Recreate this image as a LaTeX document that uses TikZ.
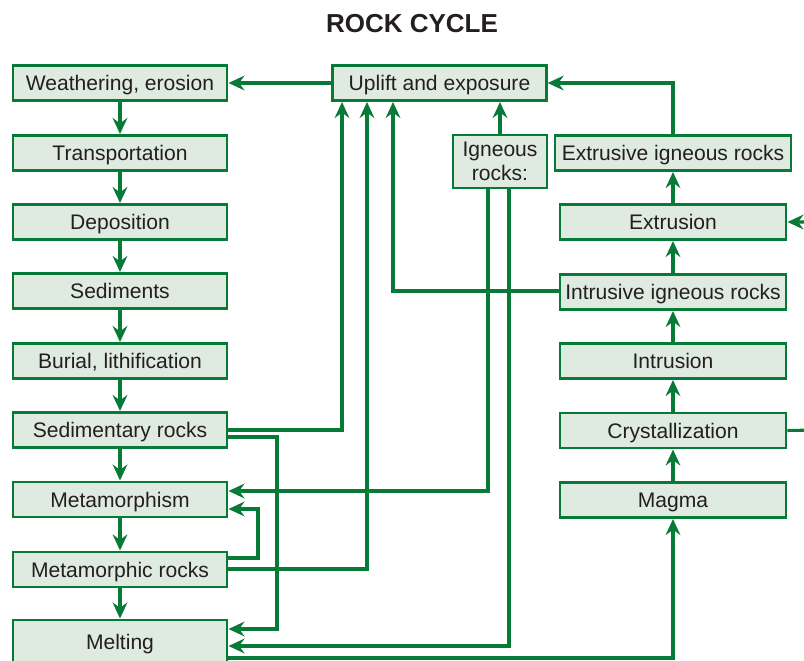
\documentclass[tikz,border=0pt]{standalone}
\usepackage{fontspec}
\setmainfont{Liberation Sans}
\usetikzlibrary{arrows.meta}
\definecolor{rgreen}{RGB}{8,122,56}
\definecolor{rfill}{RGB}{223,234,224}
\definecolor{rtext}{RGB}{35,31,32}

\begin{document}
\begin{tikzpicture}[x=0.75pt,y=-0.75pt,
  box/.style={draw=rgreen,fill=rfill,line width=2.2pt,text=rtext,inner sep=0pt,
    minimum width=160.5pt,minimum height=26.25pt,font=\fontsize{15.8}{17.5}\selectfont},
  tbox/.style={box,text height=11.6pt,text depth=0pt},
  wide/.style={tbox,minimum width=169.5pt},
  flow/.style={draw=rgreen,line width=2.3pt,-{Stealth[length=12pt,width=11pt,inset=4pt]}}]
  \useasboundingbox (0,0) rectangle (804,661);
  \node[text=rtext,font=\fontsize{19.5}{22}\selectfont\bfseries] (title) at (412,24) {ROCK CYCLE};
  % sedimentary side
  \node[tbox] (wea) at (120,83) {Weathering, erosion};
  \node[tbox] (tra) at (120,153) {Transportation};
  \node[tbox] (dep) at (120,222) {Deposition};
  \node[tbox] (sdm) at (120,291) {Sediments};
  \node[tbox] (bur) at (120,361) {Burial, lithification};
  \node[tbox] (sed) at (120,430) {Sedimentary rocks};
  \node[tbox] (met) at (120,499.5) {Metamorphism};
  \node[tbox] (mrk) at (120,569.5) {Metamorphic rocks};
  \node[tbox,minimum height=33pt] (mel) at (120,642) {Melting};
  % middle
  \node[tbox,minimum width=160pt] (upl) at (439.5,83) {Uplift and exposure};
  \node[box,minimum width=70.5pt,minimum height=39.75pt,align=center] (ign) at (500,161.5) {Igneous\\rocks:};
  % igneous side
  \node[tbox,minimum width=177pt] (erk) at (673,153) {Extrusive igneous rocks};
  \node[wide] (ext) at (673,222) {Extrusion};
  \node[wide] (irk) at (673,292) {Intrusive igneous rocks};
  \node[wide] (int) at (673,361) {Intrusion};
  \node[wide] (cry) at (673,430.5) {Crystallization};
  \node[wide] (mag) at (673,500) {Magma};
  % bends
  \coordinate (rise1) at (342,430);
  \coordinate (rise2) at (367,569);
  \coordinate (rise3) at (393,291);
  \coordinate (drop1) at (277,437);
  \coordinate (drop2) at (277,629);
  \coordinate (ig1) at (488,491);
  \coordinate (ig2) at (509,646);
  \coordinate (lp1) at (258,558);
  \coordinate (lp2) at (258,509);
  \coordinate (low) at (673,658);
  \coordinate (top) at (673,83);
  \coordinate (edge1) at (816,430);
  \coordinate (edge2) at (816,222);
  % main chains
  \foreach \a/\b in {wea/tra,tra/dep,dep/sdm,sdm/bur,bur/sed,sed/met,met/mrk,mrk/mel}
    \draw[flow] (\a) -- (\b);
  \foreach \a/\b in {mag/cry,cry/int,int/irk,irk/ext,ext/erk}
    \draw[flow] (\a) -- (\b);
  % cross links
  \draw[flow] (upl.west) -- (wea.east);
  \draw[flow] (ign.north) -- (upl.south -| ign.north);
  \draw[flow] (erk.north) -- (top) -- (upl.east |- top);
  \draw[flow] (sed.east |- rise1) -- (rise1) -- (upl.south -| rise1);
  \draw[flow] (sed.east |- drop1) -- (drop1) -- (drop2) -- (mel.east |- drop2);
  \draw[flow] (mrk.east |- rise2) -- (rise2) -- (upl.south -| rise2);
  \draw[flow] (irk.west |- rise3) -- (rise3) -- (upl.south -| rise3);
  \draw[flow] (mrk.east |- lp1) -- (lp1) -- (lp2) -- (met.east |- lp2);
  \draw[flow] (ign.south -| ig1) -- (ig1) -- (met.east |- ig1);
  \draw[flow] (ign.south -| ig2) -- (ig2) -- (mel.east |- ig2);
  \draw[flow] (mel.east |- low) -- (low) -- (mag.south);
  \draw[flow] (cry.east) -- (edge1) -- (edge2) -- (ext.east);
\end{tikzpicture}
\end{document}
